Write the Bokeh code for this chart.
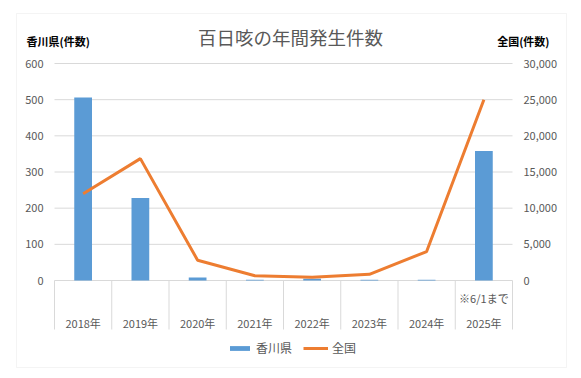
from bokeh.plotting import figure
from bokeh.models import Range1d, Label, Legend, LegendItem, BoxAnnotation
from bokeh.core.properties import value
from bokeh.embed import file_html
from bokeh.resources import INLINE
import numpy as np

years = ["2018年", "2019年", "2020年", "2021年", "2022年", "2023年", "2024年", "2025年"]
notes = ["", "", "", "", "", "", "", "※6/1まで"]
kagawa = [506, 228, 8, 2, 5, 2, 2, 358]
zenkoku = [12000, 16850, 2800, 650, 450, 850, 4000, 25000]
left_ticks = [0, 100, 200, 300, 400, 500, 600]
right_ticks = [0, 5000, 10000, 15000, 20000, 25000, 30000]

FONT = "Noto Sans CJK JP"
GRAY = "#595959"
GRID = "#d9d9d9"
BLUE = "#5b9bd5"
ORANGE = "#ed7d31"

W, H = 581, 378
n = len(years)
xc = np.arange(n) + 0.5
ratio = right_ticks[-1] / left_ticks[-1]

# plot area geometry (pixels)
px_left, px_right, px_top, px_zero = 54.0, 512.0, 63.0, 280.0
cat_w = (px_right - px_left) / n
y_scale = (px_zero - px_top) / left_ticks[-1]
x0 = -px_left / cat_w
x1 = n + (W - px_right) / cat_w
y_top = px_zero / y_scale
y_bot = -(H - px_zero) / y_scale

p = figure(width=W, height=H, output_backend="svg", toolbar_location=None,
           x_range=Range1d(x0, x1), y_range=Range1d(y_bot, y_top),
           x_axis_location=None, y_axis_location=None,
           min_border=0, min_border_left=0, min_border_right=0,
           min_border_top=0, min_border_bottom=0)
p.outline_line_color = None
p.background_fill_color = "white"
p.border_fill_color = "white"
p.xgrid.visible = False
p.ygrid.visible = False
p.extra_y_ranges = {"zen": Range1d(y_bot * ratio, y_top * ratio)}

# gridlines
p.segment(x0=[0] * len(left_ticks), y0=left_ticks, x1=[n] * len(left_ticks), y1=left_ticks,
          line_color=GRID, line_width=1)

# category table separators
sep_bottom = -(329 - px_zero) / y_scale
edges = np.arange(n + 1)
p.segment(x0=edges, y0=[0] * (n + 1), x1=edges, y1=[sep_bottom] * (n + 1),
          line_color=GRID, line_width=1)

bars = p.vbar(x=xc, top=kagawa, width=0.31, bottom=0, fill_color=BLUE, line_color=None)
line = p.line(x=xc, y=zenkoku, y_range_name="zen", line_color=ORANGE, line_width=3)

# axis tick labels
p.text(x=[0] * len(left_ticks), y=left_ticks, text=[str(t) for t in left_ticks],
       x_offset=-11, text_align="right", text_baseline="middle",
       text_font=value(FONT), text_font_size="11px", text_color=GRAY)
p.text(x=[n] * len(right_ticks), y=right_ticks, text=[f"{t:,}" for t in right_ticks],
       y_range_name="zen", x_offset=11, text_align="left", text_baseline="middle",
       text_font=value(FONT), text_font_size="11px", text_color=GRAY)

# category labels
p.text(x=xc, y=[-(322.6 - px_zero) / y_scale] * n, text=years, text_align="center",
       text_baseline="middle", text_font=value(FONT), text_font_size="11px", text_color=GRAY)
p.text(x=xc, y=[-(297.7 - px_zero) / y_scale] * n, text=notes, text_align="center",
       text_baseline="middle", text_font=value(FONT), text_font_size="11px", text_color=GRAY)

# titles
p.add_layout(Label(x=290, y=H - 36.5, x_units="screen", y_units="screen",
                   text="百日咳の年間発生件数", text_align="center", text_baseline="middle",
                   text_font=FONT, text_font_size="18.5px", text_color=GRAY))
p.add_layout(Label(x=26, y=H - 40, x_units="screen", y_units="screen", text="香川県(件数)",
                   text_align="left", text_baseline="middle", text_font=FONT,
                   text_font_size="11px", text_font_style="bold", text_color="#000000"))
p.add_layout(Label(x=549, y=H - 40, x_units="screen", y_units="screen", text="全国(件数)",
                   text_align="right", text_baseline="middle", text_font=FONT,
                   text_font_size="11px", text_font_style="bold", text_color="#000000"))

legend = Legend(items=[LegendItem(label="香川県", renderers=[bars]),
                       LegendItem(label="全国", renderers=[line])],
                orientation="horizontal", location=(227, 22), padding=0, margin=0,
                border_line_color=None, background_fill_alpha=0,
                glyph_width=25, glyph_height=6, label_height=14, label_standoff=4,
                spacing=11, label_text_font=FONT, label_text_font_size="12px",
                label_text_color=GRAY)
p.add_layout(legend, "center")

p.add_layout(BoxAnnotation(left=16, right=566, top=13, bottom=367,
                           left_units="canvas", right_units="canvas",
                           top_units="canvas", bottom_units="canvas",
                           fill_color=None, line_color=GRID, line_width=1))

open("out.html", "w").write(file_html(p, INLINE))
